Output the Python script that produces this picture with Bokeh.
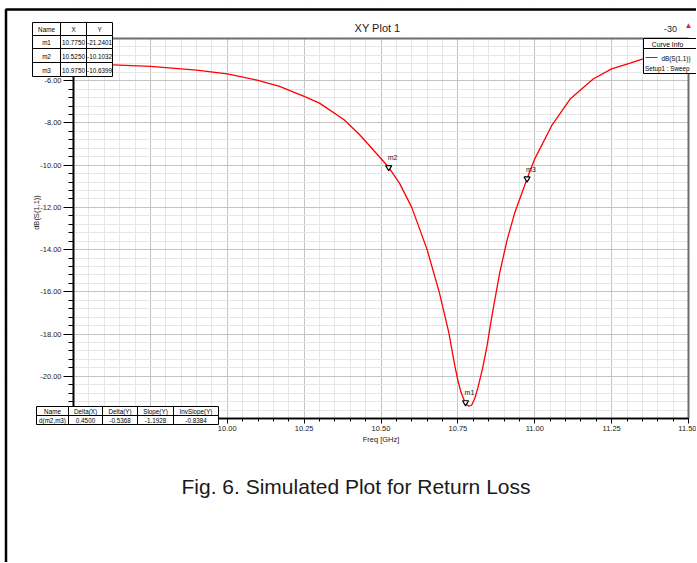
import math
from bokeh.plotting import figure
from bokeh.models import (Label, BoxAnnotation, FixedTicker, NumeralTickFormatter, Range1d,
                          LinearAxis, Grid)
from bokeh.core.properties import value
from bokeh.embed import file_html
from bokeh.resources import INLINE

# ---------------- data ----------------
freq_ghz = [9.50, 9.63, 9.75, 9.90, 10.00, 10.10, 10.17, 10.25, 10.30, 10.38, 10.43, 10.47,
            10.525, 10.56, 10.60, 10.65, 10.69, 10.72, 10.74, 10.75, 10.76, 10.77, 10.775,
            10.78, 10.786, 10.795, 10.805, 10.815, 10.83, 10.845, 10.86, 10.886, 10.91,
            10.935, 10.975, 11.00, 11.055, 11.115, 11.19, 11.25, 11.31, 11.35, 11.42, 11.50]
s11_db = [-5.22, -5.25, -5.32, -5.50, -5.68, -5.98, -6.27, -6.74, -7.06, -7.85, -8.55, -9.20,
          -10.10, -10.85, -12.00, -14.00, -16.05, -17.90, -19.50, -20.20, -20.75, -21.12, -21.24,
          -21.36, -21.42, -21.36, -21.05, -20.55, -19.65, -18.55, -17.20, -15.10, -13.55,
          -12.25, -10.64, -9.70, -8.13, -6.87, -5.92, -5.44, -5.17, -4.98, -4.80, -4.65]

marker_names = ["m1", "m2", "m3"]
marker_freq = [10.7750, 10.5250, 10.9750]
marker_db = [-21.2401, -10.1032, -10.6399]

delta_headers = ["Name", "Delta(X)", "Delta(Y)", "Slope(Y)", "InvSlope(Y)"]
delta_values = ["d(m2,m3)", "0.4500", "-0.5368", "-1.1928", "-0.8384"]

x_major_ticks = [9.50, 9.75, 10.00, 10.25, 10.50, 10.75, 11.00, 11.25, 11.50]
y_major_ticks = [-22, -20, -18, -16, -14, -12, -10, -8, -6, -4]

X0, X1, Y0, Y1 = 9.5, 11.5, -22.0, -4.0

# ---------------- page geometry helpers (page pixel -> data) ----------------
FL, FR, FT, FB = 73, 688, 38, 418
OX, OY = 0, 0          # where the canvas sits on the page


def px2x(px):
    return X0 + (px - FL) / (FR - FL) * (X1 - X0)


def py2y(py):
    return Y1 - (py - FT) / (FB - FT) * (Y1 - Y0)


FONT = "Liberation Sans"
W, H = 696, 562

p = figure(width=W, height=H,
           x_range=Range1d(px2x(OX), px2x(OX + W)), y_range=Range1d(py2y(OY + H), py2y(OY)),
           x_axis_location=None, y_axis_location=None,
           output_backend="svg", toolbar_location=None,
           min_border=0, min_border_left=0, min_border_right=0,
           min_border_top=0, min_border_bottom=0)
p.background_fill_color = "white"
p.border_fill_color = "white"
p.outline_line_color = None
p.center = []

# ticks
x_minor = [round(X0 + 0.05 * i, 3) for i in range(41)]
y_minor = [round(Y0 + 0.4 * i, 3) for i in range(46)]
xt = FixedTicker(ticks=x_major_ticks, minor_ticks=x_minor)
yt = FixedTicker(ticks=y_major_ticks, minor_ticks=y_minor)

for dim, tk in ((0, xt), (1, yt)):
    p.add_layout(Grid(dimension=dim, ticker=tk, grid_line_color="#c4c4c4",
                      minor_grid_line_color="#e6e6e6"))

# white covers outside the plotting area (over the grid only)
for kw in (dict(right=X0), dict(left=X1), dict(bottom=Y1), dict(top=Y0)):
    p.add_layout(BoxAnnotation(fill_color="white", fill_alpha=1, line_color=None,
                               level="underlay", **kw))
p.add_layout(BoxAnnotation(left=X0, right=X1, top=Y1, bottom=Y0, fill_alpha=0,
                           line_color="#6e6e6e", line_alpha=1, line_width=2, level="underlay"))

yax = LinearAxis(fixed_location=X0, bounds=(Y0, Y1), ticker=yt,
                 formatter=NumeralTickFormatter(format="0.00"))
xax = LinearAxis(fixed_location=Y0, bounds=(X0, X1), ticker=xt,
                 formatter=NumeralTickFormatter(format="0.00"), axis_label="Freq [GHz]")
for ax in (xax, yax):
    ax.axis_line_color = "black"
    ax.axis_line_width = 1.6
    ax.major_tick_line_color = "black"
    ax.minor_tick_line_color = "black"
    ax.major_tick_in = 0
    ax.minor_tick_in = 0
    ax.major_label_text_font = FONT
    ax.major_label_text_font_size = "7.5px"
    ax.major_label_text_color = "#222222"
    ax.axis_label_text_font = FONT
    ax.axis_label_text_font_style = "normal"
    ax.axis_label_text_font_size = "7.5px"
    ax.axis_label_text_color = "#222222"
yax.major_tick_out = 10
yax.minor_tick_out = 5
yax.major_label_standoff = 2
yax.major_label_overrides = {-4: "", -22: ""}
xax.major_tick_out = 5
xax.minor_tick_out = 3
xax.major_label_standoff = 2
xax.axis_label_standoff = 1
xax.major_label_overrides = {9.5: "", 9.75: ""}
p.add_layout(yax, "left")
p.add_layout(xax, "below")

# curve
p.line(freq_ghz, s11_db, line_color="#ff0000", line_width=1.3)

# markers
p.scatter(marker_freq, marker_db, marker="inverted_triangle", size=6,
          fill_color="white", line_color="black", line_width=1.2)
p.text(marker_freq, marker_db, text=marker_names, text_font=value(FONT),
       text_font_size="7px", text_color="#222222", text_align="left",
       text_baseline="bottom", x_offset=-1, y_offset=-6)


def box(l, t, r, b, fill="white", line="black", lw=1):
    p.add_layout(BoxAnnotation(left=px2x(l), right=px2x(r), top=py2y(t), bottom=py2y(b),
                               fill_color=fill if fill else "white", fill_alpha=1 if fill else 0,
                               line_color=line, line_alpha=1, line_width=lw))


def label(px, py, text, size="7px", align="center", baseline="middle", color="black", angle=0.0):
    p.add_layout(Label(x=px2x(px), y=py2y(py), text=text, text_font=FONT, text_font_size=size,
                       text_align=align, text_baseline=baseline, text_color=color, angle=angle))


# marker table (top-left)
mcols = [32, 60, 86, 112]
mrows = [22, 35, 48, 62, 76]
mtable = [["Name", "X", "Y"]] + [[n, f"{f:.4f}", f"{d:.4f}"]
                                 for n, f, d in zip(marker_names, marker_freq, marker_db)]
for ri, row in enumerate(mtable):
    for ci, txt in enumerate(row):
        box(mcols[ci], mrows[ri], mcols[ci + 1], mrows[ri + 1])
        label((mcols[ci] + mcols[ci + 1]) / 2, (mrows[ri] + mrows[ri + 1]) / 2 + 0.5, txt, size="6.3px")

# delta table (bottom-left)
dcols = [36, 68, 102, 137, 173, 218]
drows = [406, 415, 424]
for ri, row in enumerate([delta_headers, delta_values]):
    for ci, txt in enumerate(row):
        box(dcols[ci], drows[ri], dcols[ci + 1], drows[ri + 1])
        label((dcols[ci] + dcols[ci + 1]) / 2, (drows[ri] + drows[ri + 1]) / 2 + 0.5, txt, size="6.3px")

# curve info legend (top-right)
box(643, 38, 696, 48)
box(643, 48, 696, 73)
label(667, 43.5, "Curve Info", size="6.8px")
box(645, 56.6, 657, 57.6, fill="#ff0000", line=None)
label(690, 57.5, "dB(S(1,1))", size="6.3px", align="right")
label(644.5, 68, "Setup1 : Sweep", size="6.3px", align="left")

# title and misc texts
label(377, 27, "XY Plot 1", size="11px", color="#222222")
label(670, 28, "-30", size="9px", color="#222222")
label(688, 25, "\u25b2", size="8px", color="#d03030")
label(36, 212, "dB(S(1,1))", size="7.5px", color="#222222", angle=math.pi / 2)
label(355.5, 486, "Fig. 6. Simulated Plot for Return Loss", size="21px",
      baseline="alphabetic", color="#1a1a1a")

# outer black frame of the figure picture
box(5.5, 9, 900, 900, fill=None, line="black", lw=2.5)

open("out.html", "w").write(file_html(p, INLINE))
